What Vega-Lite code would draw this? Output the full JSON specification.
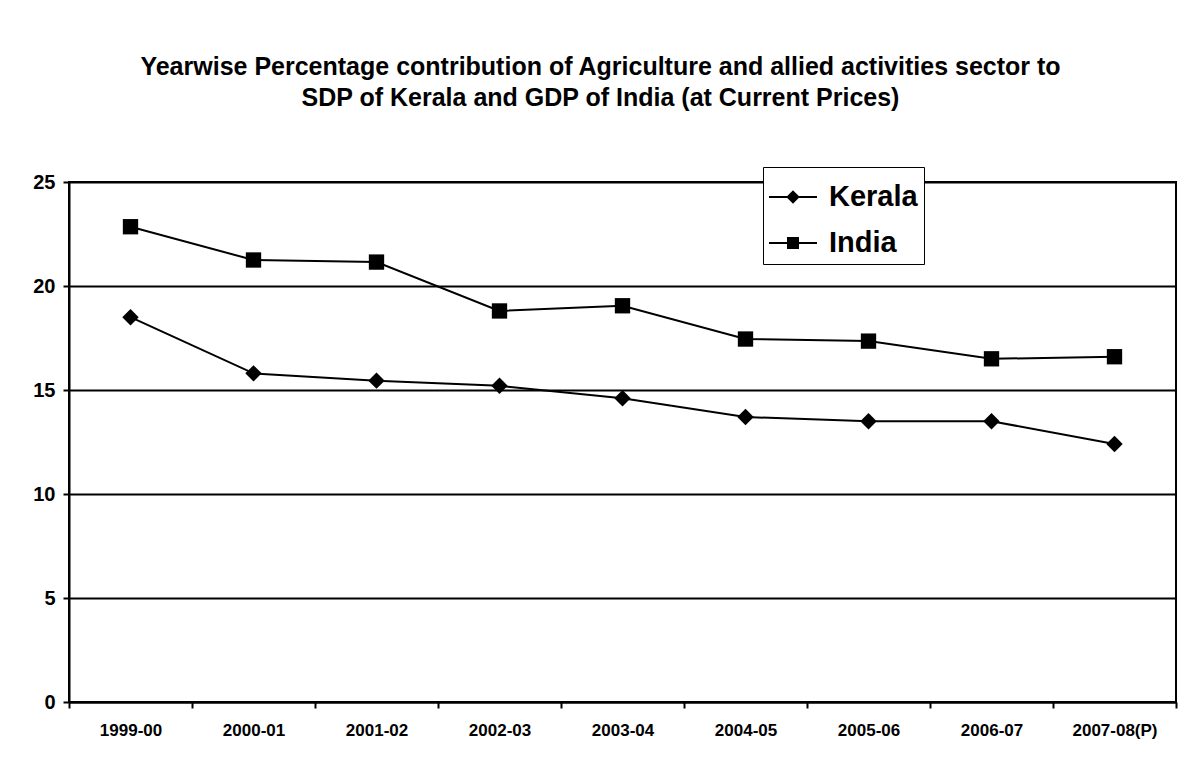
{
  "$schema": "https://vega.github.io/schema/vega-lite/v6.json",
  "autosize": {"type": "none"},
  "padding": {"left": 69, "top": 182, "right": 21, "bottom": 79},
  "width": 1107,
  "height": 520,
  "background": "white",
  "title": {
    "text": ["Yearwise Percentage contribution of Agriculture and allied activities sector to", "SDP of Kerala and GDP of India (at Current Prices)"],
    "anchor": "middle",
    "frame": "group",
    "dx": -22,
    "font": "Liberation Sans",
    "fontSize": 25,
    "fontWeight": "bold",
    "color": "black",
    "lineHeight": 31,
    "offset": 56
  },
  "config": {
    "view": {"stroke": "black", "strokeWidth": 2},
    "axis": {
      "labelColor": "black",
      "labelFont": "Liberation Sans",
      "labelFontWeight": "bold",
      "domainColor": "black",
      "domainWidth": 2,
      "tickColor": "black",
      "tickWidth": 2,
      "titleColor": "black"
    }
  },
  "data": {
    "values": [
      {"year": "1999-00", "series": "Kerala", "value": 18.5},
      {"year": "2000-01", "series": "Kerala", "value": 15.8},
      {"year": "2001-02", "series": "Kerala", "value": 15.45},
      {"year": "2002-03", "series": "Kerala", "value": 15.2},
      {"year": "2003-04", "series": "Kerala", "value": 14.6},
      {"year": "2004-05", "series": "Kerala", "value": 13.7},
      {"year": "2005-06", "series": "Kerala", "value": 13.5},
      {"year": "2006-07", "series": "Kerala", "value": 13.5},
      {"year": "2007-08(P)", "series": "Kerala", "value": 12.4},
      {"year": "1999-00", "series": "India", "value": 22.85},
      {"year": "2000-01", "series": "India", "value": 21.25},
      {"year": "2001-02", "series": "India", "value": 21.15},
      {"year": "2002-03", "series": "India", "value": 18.8},
      {"year": "2003-04", "series": "India", "value": 19.05},
      {"year": "2004-05", "series": "India", "value": 17.45},
      {"year": "2005-06", "series": "India", "value": 17.35},
      {"year": "2006-07", "series": "India", "value": 16.5},
      {"year": "2007-08(P)", "series": "India", "value": 16.6}
    ]
  },
  "encoding": {
    "x": {
      "field": "year",
      "type": "nominal",
      "sort": null,
      "bandPosition": 0.5,
      "scale": {"type": "band", "paddingInner": 0, "paddingOuter": 0},
      "axis": {
        "title": null,
        "labelAngle": 0,
        "labelFontSize": 17,
        "tickBand": "extent",
        "tickSize": 6,
        "labelPadding": 14,
        "grid": false
      }
    },
    "y": {
      "field": "value",
      "type": "quantitative",
      "scale": {"domain": [0, 25], "nice": false},
      "axis": {
        "title": null,
        "values": [0, 5, 10, 15, 20, 25],
        "labelFontSize": 20,
        "tickSize": 6,
        "labelPadding": 8,
        "grid": true,
        "gridColor": "black",
        "gridWidth": 2,
        "gridOpacity": 1
      }
    }
  },
  "layer": [
    {
      "mark": {"type": "line", "color": "black", "strokeWidth": 2},
      "encoding": {"detail": {"field": "series"}}
    },
    {
      "mark": {"type": "point", "filled": true, "color": "black", "opacity": 1},
      "encoding": {
        "shape": {
          "field": "series",
          "scale": {"domain": ["Kerala", "India"], "range": ["diamond", "square"]},
          "legend": null
        },
        "size": {
          "field": "series",
          "scale": {"domain": ["Kerala", "India"], "range": [270, 235]},
          "legend": null
        }
      }
    },
    {
      "mark": {"type": "point", "filled": true, "color": "black"},
      "encoding": {
        "opacity": {"value": 0},
        "shape": {
          "field": "series",
          "scale": {
            "domain": ["Kerala", "India"],
            "range": [
              "M-1,-0.045H1V0.045H-1ZM0,-0.28L0.28,0L0,0.28L-0.28,0Z",
              "M-1,-0.045H1V0.045H-1ZM-0.25,-0.25H0.25V0.25H-0.25Z"
            ]
          },
          "legend": {
            "title": null,
            "orient": "none",
            "legendX": 694,
            "legendY": -15,
            "fillColor": "white",
            "strokeColor": "black",
            "padding": 6,
            "rowPadding": 7,
            "symbolSize": 2304,
            "symbolStrokeWidth": 0,
            "symbolFillColor": "black",
            "symbolOpacity": 1,
            "labelOffset": 12,
            "labelFont": "Liberation Sans",
            "labelFontWeight": "bold",
            "labelFontSize": 29,
            "labelColor": "black",
            "labelLimit": 300
          }
        }
      }
    }
  ],
  "resolve": {"scale": {"shape": "independent", "size": "independent"}}
}
